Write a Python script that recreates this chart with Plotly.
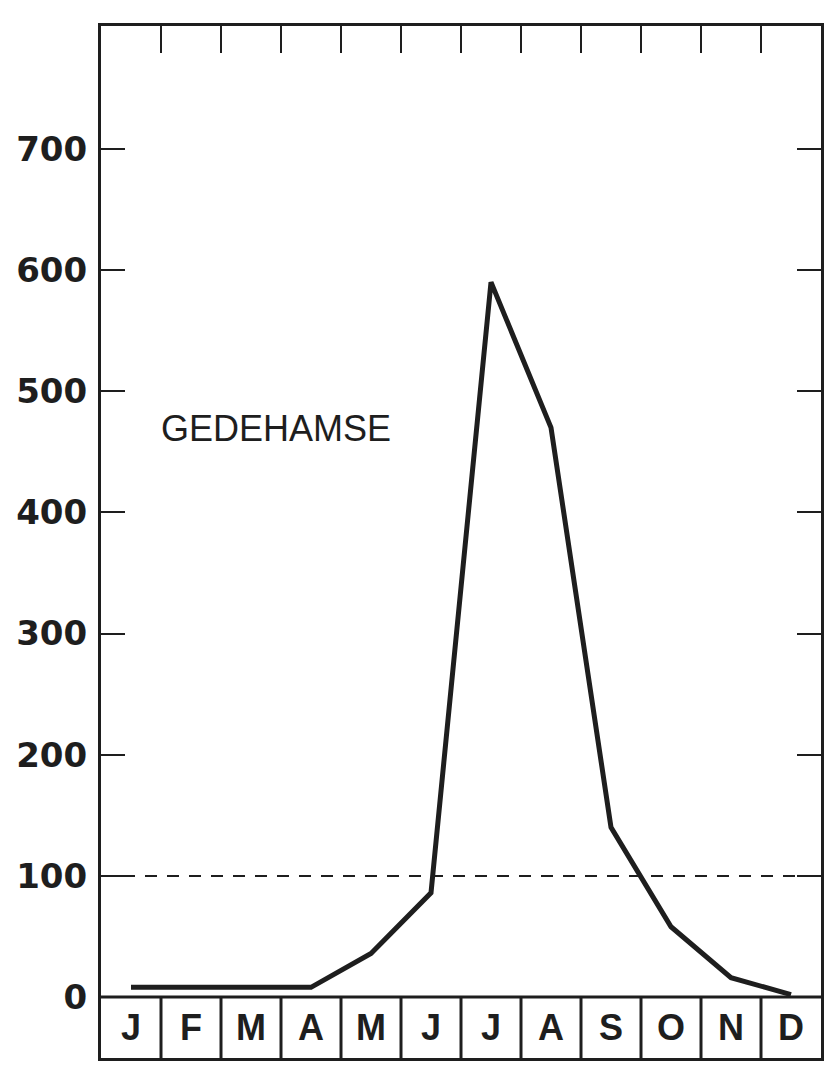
import plotly.graph_objects as go

months = ["J", "F", "M", "A", "M", "J", "J", "A", "S", "O", "N", "D"]
values = [8, 8, 8, 8, 36, 86, 590, 470, 140, 58, 16, 2]
y_ticks = [0, 100, 200, 300, 400, 500, 600, 700]
label_text = "GEDEHAMSE"
reference_level = 100

ink = "#1e1e1e"
x_pos = [i + 0.5 for i in range(len(months))]

fig = go.Figure()
fig.add_trace(go.Scatter(
    x=x_pos, y=values, mode="lines",
    line=dict(color=ink, width=5), hoverinfo="skip", showlegend=False,
))

shapes = []
shapes.append(dict(type="line", xref="x", yref="y", x0=0, x1=12,
                   y0=reference_level, y1=reference_level,
                   line=dict(color=ink, width=2, dash="12px,10px")))
shapes.append(dict(type="line", xref="x", yref="y", x0=0, x1=12, y0=0, y1=0,
                   line=dict(color=ink, width=3)))
for i in range(1, len(months)):
    shapes.append(dict(type="line", xref="x", yref="y", x0=i, x1=i,
                       y0=-50.3, y1=0, line=dict(color=ink, width=3)))

annotations = []
for xp, m in zip(x_pos, months):
    annotations.append(dict(x=xp, y=-25, xref="x", yref="y", text=m,
                            showarrow=False,
                            font=dict(family="Liberation Sans", size=36,
                                      color=ink, weight="bold")))
annotations.append(dict(x=0.965, y=469, xref="x", yref="y", text=label_text,
                        showarrow=False, xanchor="left", yanchor="middle",
                        font=dict(family="Liberation Sans", size=36, color=ink)))

fig.update_layout(
    width=821, height=1068,
    margin=dict(l=93, r=8, t=18, b=18),
    paper_bgcolor="white", plot_bgcolor="white",
    shapes=shapes, annotations=annotations,
    showlegend=False,
)
fig.update_xaxes(
    range=[0, 12], tickvals=list(range(1, 12)), showticklabels=False,
    ticks="inside", ticklen=27, tickwidth=2, tickcolor=ink,
    showline=True, linewidth=3, linecolor=ink, mirror="ticks",
    showgrid=False, zeroline=False, fixedrange=True, automargin=False,
)
fig.update_yaxes(
    range=[-50.3, 801.4], tickvals=y_ticks,
    ticktext=[str(v) for v in y_ticks],
    ticks="inside", ticklen=24, tickwidth=2, tickcolor=ink,
    showline=True, linewidth=3, linecolor=ink, mirror="ticks",
    showgrid=False, zeroline=False, ticklabelstandoff=4,
    tickfont=dict(family="DejaVu Sans", size=34, color=ink, weight="bold"),
    fixedrange=True, automargin=False,
)

fig.write_html("out.html", config={"displayModeBar": False})
